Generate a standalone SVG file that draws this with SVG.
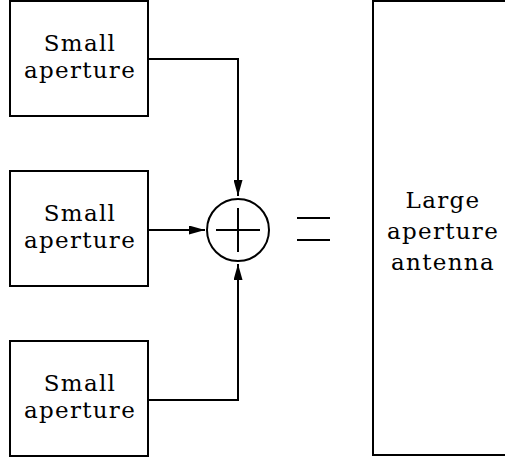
<svg xmlns="http://www.w3.org/2000/svg" width="505" height="459" viewBox="0 0 505 459">
<style>
.box{fill:#fff;stroke:#000;stroke-width:2}
.ln{fill:none;stroke:#000;stroke-width:2}
.t{font-family:"DejaVu Serif",serif;font-size:23px;letter-spacing:1.3px;text-anchor:middle;fill:#000}
</style>
<defs>
<marker id="ah" markerWidth="16" markerHeight="9" refX="16" refY="4.5" orient="auto" markerUnits="userSpaceOnUse">
<path d="M0,0 L16,4.5 L0,9 Z" fill="#000"/>
</marker>
</defs>
<rect width="505" height="459" fill="#fff"/>
<g id="connectors">
<path class="ln" d="M148,59 H238 V196" marker-end="url(#ah)"/>
<path class="ln" d="M148,230 H205" marker-end="url(#ah)"/>
<path class="ln" d="M148,400 H238 V264" marker-end="url(#ah)"/>
</g>
<g id="small1">
<rect class="box" x="10" y="1" width="138" height="115"/>
<text class="t" x="80" y="51">Small<tspan x="80" dy="27">aperture</tspan></text>
</g>
<g id="small2">
<rect class="box" x="10" y="171" width="138" height="115"/>
<text class="t" x="80" y="221">Small<tspan x="80" dy="27">aperture</tspan></text>
</g>
<g id="small3">
<rect class="box" x="10" y="341" width="138" height="115"/>
<text class="t" x="80" y="391">Small<tspan x="80" dy="27">aperture</tspan></text>
</g>
<g id="sum">
<circle class="ln" cx="238" cy="230" r="31"/>
<path class="ln" d="M216,230 H260 M238,208 V252"/>
</g>
<g id="equals">
<path class="ln" d="M297,218 H330 M297,240 H330"/>
</g>
<g id="large">
<rect class="box" x="373" y="1" width="140" height="454"/>
<text class="t" x="443" y="208">Large<tspan x="443" dy="31">aperture</tspan><tspan x="443" dy="31">antenna</tspan></text>
</g>
</svg>
